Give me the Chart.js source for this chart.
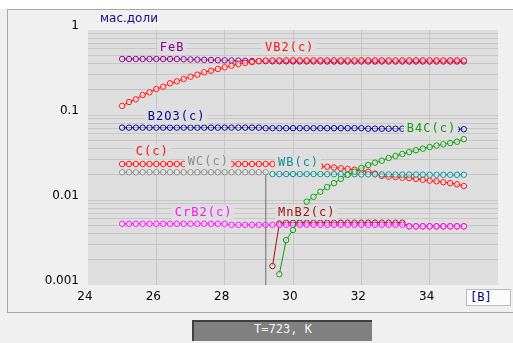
<!DOCTYPE html>
<html>
<head>
<meta charset="utf-8">
<script src="https://cdn.jsdelivr.net/npm/chart.js@4.4.1/dist/chart.umd.min.js"></script>
<style>
  html, body { margin: 0; padding: 0; }
  body { width: 513px; height: 343px; background: #f0f0f0; position: relative; overflow: hidden; font-family: "DejaVu Sans", sans-serif; }
  #topStrip { position: absolute; left: 0; top: 0; width: 513px; height: 9px; background: #ffffff; }
  #panel { position: absolute; left: 7px; top: 9px; width: 520px; height: 302px; border: 1px solid #a8a8a8; border-right: none; background: #f0f0f0; }
  #chart { position: absolute; left: 0; top: 0; }
  #unit { position: absolute; left: 100px; top: 10px; line-height: 16px; font-size: 12px; color: #101080; }
  #xunit { position: absolute; left: 466px; top: 289px; width: 40px; height: 15px; padding-left: 3px; line-height: 15px; background: #fbfbfb; border: 1px solid #bcbcbc; font: 12px "DejaVu Sans Mono", monospace; color: #000080; }
  #temp { position: absolute; left: 192px; top: 320px; width: 178px; height: 19px; line-height: 19px; background: #808080; border-top: 2px solid #404040; border-left: 2px solid #404040; text-align: center; font: 12px "DejaVu Sans Mono", monospace; color: #f4f4f4; }
</style>
</head>
<body>
<div id="topStrip"></div>
<div id="panel"></div>
<canvas id="chart" width="513" height="343"></canvas>
<div id="unit">мас.доли</div>
<div id="xunit">[B]</div>
<div id="temp">T=723, K</div>

<script>
// composition, x axis
const xs = [25.0, 25.2, 25.4, 25.6, 25.8, 26.0, 26.2, 26.4, 26.6, 26.8,
            27.0, 27.2, 27.4, 27.6, 27.8, 28.0, 28.2, 28.4, 28.6, 28.8,
            29.0, 29.2, 29.4, 29.6, 29.8, 30.0, 30.2, 30.4, 30.6, 30.8,
            31.0, 31.2, 31.4, 31.6, 31.8, 32.0, 32.2, 32.4, 32.6, 32.8,
            33.0, 33.2, 33.4, 33.6, 33.8, 34.0, 34.2, 34.4, 34.6, 34.8, 35.0];

// mass fractions per phase (null = phase absent)
const feB = [0.456, 0.456, 0.456, 0.456, 0.456, 0.456, 0.456, 0.456, 0.455, 0.453,
             0.450, 0.448, 0.446, 0.444, 0.442, 0.440, 0.438, 0.436, 0.434, 0.432,
             0.430, 0.430, 0.428, 0.428, 0.428, 0.427, 0.427, 0.427, 0.427, 0.427,
             0.426, 0.426, 0.426, 0.426, 0.426, 0.426, 0.426, 0.426, 0.426, 0.426,
             0.426, 0.426, 0.426, 0.426, 0.426, 0.426, 0.426, 0.426, 0.426, 0.426, 0.426];
const vB2 = [0.128, 0.142, 0.153, 0.172, 0.185, 0.202, 0.215, 0.236, 0.249, 0.265,
             0.282, 0.298, 0.318, 0.332, 0.348, 0.364, 0.380, 0.398, 0.410, 0.420,
             0.430, 0.437, 0.440, 0.440, 0.440, 0.440, 0.440, 0.440, 0.440, 0.440,
             0.440, 0.440, 0.440, 0.440, 0.440, 0.440, 0.440, 0.440, 0.440, 0.440,
             0.440, 0.440, 0.440, 0.440, 0.440, 0.440, 0.440, 0.440, 0.440, 0.440, 0.440];
const b2O3 = [0.071, 0.071, 0.071, 0.071, 0.071, 0.071, 0.071, 0.071, 0.071, 0.071,
              0.071, 0.071, 0.071, 0.071, 0.071, 0.071, 0.071, 0.071, 0.071, 0.071,
              0.071, 0.070, 0.070, 0.070, 0.070, 0.070, 0.070, 0.070, 0.070, 0.070,
              0.070, 0.070, 0.070, 0.070, 0.070, 0.070, 0.069, 0.069, 0.069, 0.069,
              0.069, 0.069, 0.069, 0.069, 0.069, 0.069, 0.068, 0.068, 0.068, 0.068, 0.068];
const b4C = [null, null, null, null, null, null, null, null, null, null,
             null, null, null, null, null, null, null, null, null, null,
             null, null, null, 0.00134, 0.00338, 0.00444, 0.0065, 0.00955, 0.0109, 0.0125,
             0.0142, 0.0158, 0.0177, 0.0197, 0.0215, 0.0238, 0.0258, 0.0275, 0.0290, 0.0312,
             0.0330, 0.0348, 0.0366, 0.0385, 0.0402, 0.0420, 0.0437, 0.0452, 0.0468, 0.0485, 0.0520];
const cC = [0.0265, 0.0265, 0.0265, 0.0265, 0.0265, 0.0265, 0.0265, 0.0265, 0.0265, 0.0265,
            0.0265, 0.0265, 0.0265, 0.0265, 0.0265, 0.0265, 0.0265, 0.0265, 0.0265, 0.0265,
            0.0265, 0.0265, 0.0265, 0.0262, 0.0260, 0.0258, 0.0256, 0.0254, 0.0252, 0.0250,
            0.0246, 0.0241, 0.0236, 0.0232, 0.0227, 0.0222, 0.0215, 0.0205, 0.0192, 0.0188,
            0.0186, 0.0183, 0.0181, 0.0177, 0.0173, 0.0169, 0.0166, 0.0162, 0.0158, 0.0153, 0.0146];
const wC = [0.0212, 0.0212, 0.0212, 0.0212, 0.0212, 0.0212, 0.0212, 0.0212, 0.0212, 0.0212,
            0.0212, 0.0212, 0.0212, 0.0212, 0.0212, 0.0212, 0.0212, 0.0212, 0.0212, 0.0212,
            0.0212, 0.0212, null, null, null, null, null, null, null, null,
            null, null, null, null, null, null, null, null, null, null,
            null, null, null, null, null, null, null, null, null, null, null];
// WC(c) disappears: the curve falls straight down at the last composition
const wCEndX = 29.2;
const wCEndY = 0.00001;
const wB = [null, null, null, null, null, null, null, null, null, null,
            null, null, null, null, null, null, null, null, null, null,
            null, null, 0.0202, 0.0202, 0.0202, 0.0202, 0.0202, 0.0202, 0.0202, 0.0202,
            0.0201, 0.0201, 0.0201, 0.0201, 0.0201, 0.0200, 0.0200, 0.0200, 0.0200, 0.0200,
            0.0199, 0.0199, 0.0199, 0.0199, 0.0199, 0.0198, 0.0198, 0.0198, 0.0198, 0.0198, 0.0198];
const crB2 = [0.00525, 0.00525, 0.00525, 0.00525, 0.00525, 0.00525, 0.00525, 0.00525, 0.00525, 0.00525,
              0.00525, 0.00525, 0.00525, 0.00525, 0.00525, 0.00525, 0.0051, 0.0051, 0.0051, 0.0051,
              0.0051, 0.0051, 0.0051, 0.0051, 0.0051, 0.0051, 0.0051, 0.0051, 0.0051, 0.0051,
              0.0051, 0.0051, 0.0051, 0.0051, 0.0051, 0.0051, 0.0051, 0.0051, 0.0051, 0.0051,
              0.0051, 0.0051, 0.0049, 0.0049, 0.0049, 0.0049, 0.0049, 0.0049, 0.0049, 0.0049, 0.0049];
const mnB2 = [null, null, null, null, null, null, null, null, null, null,
              null, null, null, null, null, null, null, null, null, null,
              null, null, 0.00167, 0.0053, 0.0054, 0.0054, 0.0054, 0.0054, 0.0054, 0.0054,
              0.0054, 0.0054, 0.0054, 0.0054, 0.0054, 0.0054, 0.0054, 0.0054, 0.0054, 0.0054,
              0.0054, 0.0054, 0.0049, 0.0049, 0.0049, 0.0049, 0.0049, 0.0049, 0.0049, 0.0049, 0.0049];

// ticks
const xTickLabels = ["24", "26", "28", "30", "32", "34"];
const yTickLabels = ["1", "0.1", "0.01", "0.001"];
const yGridValues = [0.001, 0.002, 0.003, 0.004, 0.005, 0.006, 0.007, 0.008, 0.009,
                     0.01, 0.02, 0.03, 0.04, 0.05, 0.06, 0.07, 0.08, 0.09,
                     0.1, 0.2, 0.3, 0.4, 0.5, 0.6, 0.7, 0.8, 0.9, 1];

// curve labels (text, anchor x, anchor y in data units, colour)
const labelTexts = ["FeB", "VB2(c)", "B2O3(c)", "B4C(c)", "C(c)", "WC(c)", "WB(c)", "CrB2(c)", "MnB2(c)"];
const labelX = [26.1, 29.18, 25.75, 33.33, 25.4, 26.92, 29.56, 26.54, 29.56];
const labelY = [0.63, 0.63, 0.096, 0.0698, 0.0372, 0.0288, 0.0275, 0.00723, 0.00723];
const labelColors = ["#880088", "#ff1010", "#000090", "#109a10", "#ff1010", "#8c8c8c", "#109090", "#ff10ff", "#a01010"];

const plotBg = "#dedede";
const gridColor = "#c6c6c6";

function pts(values) {
  const out = [];
  values.forEach((v, i) => { if (v !== null) out.push({ x: xs[i], y: v }); });
  return out;
}

function series(data, color) {
  return {
    data: data,
    borderColor: color,
    borderWidth: 1,
    pointRadius: 2.7,
    pointBorderWidth: 1,
    pointBorderColor: color,
    pointBackgroundColor: "rgba(255,255,255,0.55)",
    tension: 0,
    spanGaps: false
  };
}

const wcData = pts(wC);
wcData.push({ x: wCEndX, y: wCEndY });
const wcSet = series(wcData, "#8c8c8c");

const plotBackground = {
  id: "plotBackground",
  beforeDraw(chart) {
    const a = chart.chartArea;
    const ctx = chart.ctx;
    ctx.save();
    ctx.fillStyle = plotBg;
    ctx.fillRect(a.left, a.top, a.right - a.left, a.bottom - a.top);
    ctx.restore();
  }
};

const curveLabels = {
  id: "curveLabels",
  afterDatasetsDraw(chart) {
    const ctx = chart.ctx;
    const xScale = chart.scales.x;
    const yScale = chart.scales.y;
    ctx.save();
    ctx.font = '12px "DejaVu Sans Mono", monospace';
    ctx.letterSpacing = "1px";
    ctx.textBaseline = "middle";
    labelTexts.forEach((t, i) => {
      const px = xScale.getPixelForValue(labelX[i]);
      const py = yScale.getPixelForValue(labelY[i]);
      const w = ctx.measureText(t).width;
      ctx.fillStyle = plotBg;
      ctx.fillRect(px - 3, py - 7, w + 5, 15);
      ctx.fillStyle = labelColors[i];
      ctx.fillText(t, px, py + 0.5);
    });
    ctx.restore();
  }
};

new Chart(document.getElementById("chart"), {
  type: "line",
  data: {
    datasets: [
      series(pts(vB2), "#ff1010"),
      series(pts(feB), "#880088"),
      series(pts(b4C), "#109a10"),
      series(pts(wB), "#109090"),
      series(pts(cC), "#ff1010"),
      wcSet,
      series(pts(b2O3), "#000090"),
      series(pts(crB2), "#ff10ff"),
      series(pts(mnB2), "#a01010")
    ]
  },
  options: {
    responsive: false,
    animation: false,
    layout: { padding: { left: 0, top: 30, right: 15, bottom: 0 } },
    plugins: {
      legend: { display: false },
      tooltip: { enabled: false }
    },
    scales: {
      x: {
        type: "linear",
        min: 24,
        max: 36,
        afterFit: (s) => { s.height = 58; },
        ticks: {
          stepSize: 2,
          color: "#000",
          padding: 5,
          labelOffset: -3,
          font: { family: "DejaVu Sans", size: 12 },
          callback: (v) => xTickLabels.includes(String(v)) ? String(v) : ""
        },
        grid: {
          drawTicks: false,
          color: (c) => (c.tick && (c.tick.value === 24 || c.tick.value === 36)) ? "rgba(0,0,0,0)" : gridColor
        },
        border: { display: false }
      },
      y: {
        type: "logarithmic",
        min: 0.001,
        max: 1,
        afterFit: (s) => { s.width = 88; },
        afterBuildTicks: (s) => { s.ticks = yGridValues.map(v => ({ value: v })); },
        ticks: {
          autoSkip: false,
          color: "#000",
          padding: 9,
          labelOffset: -4,
          font: { family: "DejaVu Sans", size: 12 },
          callback: (v) => {
            const lbl = yTickLabels.find(l => Math.abs(parseFloat(l) - v) < v * 1e-6);
            return lbl ? lbl : "";
          }
        },
        grid: {
          drawTicks: false,
          color: (c) => (c.tick && (c.tick.value === 1 || c.tick.value === 0.001)) ? "rgba(0,0,0,0)" : gridColor
        },
        border: { display: false }
      }
    }
  },
  plugins: [plotBackground, curveLabels]
});
</script>
</body>
</html>
